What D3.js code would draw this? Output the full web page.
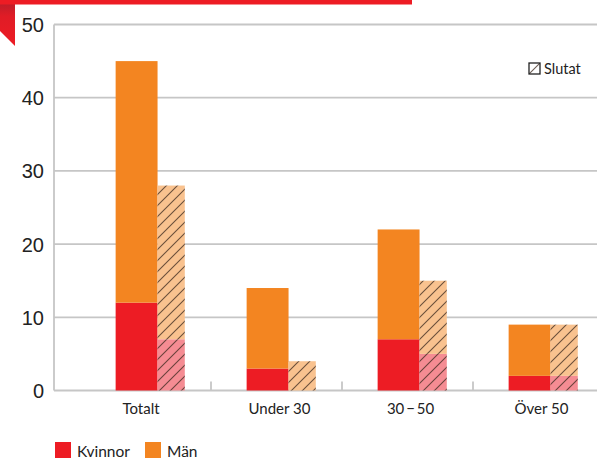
<!DOCTYPE html>
<html>
<head>
<meta charset="utf-8">
<script src="https://cdn.jsdelivr.net/npm/d3@7"></script>
<style>
  html, body { margin: 0; padding: 0; background: #fff; }
  svg { display: block; }
</style>
</head>
<body>
<svg id="chart" width="597" height="459"></svg>
<script>
// Age groups along the x axis
const categories = ["Totalt", "Under 30", "30\u2009\u2212\u200950", "Över 50"];
// Current staff by gender
const kvinnor = [12, 3, 7, 2];
const man = [33, 11, 15, 7];
// Staff who left ("Slutat"), by gender
const slutatKvinnor = [7, 0, 5, 2];
const slutatMan = [21, 4, 10, 7];
// Y axis ticks
const yTicks = [0, 10, 20, 30, 40, 50];

const RED = "#ED1C24";
const ORANGE = "#F38521";
const RED_LIGHT = "#F58C93";
const ORANGE_LIGHT = "#F9C28F";
const GRID = "#c6c6c6";
const TEXT = "#222";

const svg = d3.select("#chart");
const defs = svg.append("defs");

// diagonal hatch for the "Slutat" bars
function hatch(id, fill) {
  const p = defs.append("pattern")
    .attr("id", id)
    .attr("patternUnits", "userSpaceOnUse")
    .attr("width", 11).attr("height", 11);
  if (fill) p.append("rect").attr("width", 11).attr("height", 11).attr("fill", fill);
  p.append("path")
    .attr("d", "M-1,12 L12,-1 M-3,3 L3,-3 M8,14 L14,8")
    .attr("stroke", "rgba(60,40,30,0.75)")
    .attr("stroke-width", 1.1);
}
hatch("hatch-red", RED_LIGHT);
hatch("hatch-orange", ORANGE_LIGHT);
hatch("hatch-legend", null);

const flagGrad = defs.append("linearGradient")
  .attr("id", "flag").attr("x1", 0).attr("y1", 0).attr("x2", 0).attr("y2", 1);
flagGrad.append("stop").attr("offset", "0%").attr("stop-color", "#b51e2a");
flagGrad.append("stop").attr("offset", "35%").attr("stop-color", "#e01c26");
flagGrad.append("stop").attr("offset", "100%").attr("stop-color", RED);

// header ribbon
svg.append("rect").attr("x", 0).attr("y", 0).attr("width", 412).attr("height", 4.5).attr("fill", RED);
svg.append("path").attr("d", "M0,0 L15,0 L15,46 L0,31 Z").attr("fill", "url(#flag)");
svg.append("rect").attr("x", 0).attr("y", 0).attr("width", 15).attr("height", 4.5).attr("fill", RED);

const y = d3.scaleLinear().domain([0, 50]).range([390.5, 24.5]);
const x = d3.scaleBand().domain(categories).range([80, 604]).padding(0);
const bw = x.bandwidth();
const solidX = d => x(d) + bw * 0.272;
const solidW = bw * 0.32;
const hatchX = d => solidX(d) + solidW;
const hatchW = bw * 0.208;

// gridlines
svg.append("g").selectAll("line").data(yTicks).join("line")
  .attr("x1", 54).attr("x2", 597)
  .attr("y1", d => y(d)).attr("y2", d => y(d))
  .attr("stroke", GRID).attr("stroke-width", 1.8);

// left axis line
svg.append("line").attr("x1", 54).attr("x2", 54)
  .attr("y1", y(50)).attr("y2", y(0))
  .attr("stroke", GRID).attr("stroke-width", 1.8);

// tick marks between groups
svg.append("g").selectAll("line").data(categories.slice(1)).join("line")
  .attr("x1", d => x(d)).attr("x2", d => x(d))
  .attr("y1", y(0) - 9).attr("y2", y(0))
  .attr("stroke", GRID).attr("stroke-width", 1.8);

// y tick labels
svg.append("g").selectAll("text").data(yTicks).join("text")
  .attr("x", 44).attr("y", d => y(d) + 7.5)
  .attr("text-anchor", "end")
  .attr("font-family", "Liberation Sans, Arial, sans-serif")
  .attr("font-size", 20)
  .attr("fill", TEXT)
  .text(d => d);

const rows = categories.map((c, i) => ({
  c, k: kvinnor[i], m: man[i], sk: slutatKvinnor[i], sm: slutatMan[i]
}));

const bars = svg.append("g");
// current staff: Kvinnor at bottom, Män stacked on top
bars.selectAll(".k").data(rows).join("rect").attr("class", "k")
  .attr("x", d => solidX(d.c)).attr("width", solidW)
  .attr("y", d => y(d.k)).attr("height", d => y(0) - y(d.k))
  .attr("fill", RED);
bars.selectAll(".m").data(rows).join("rect").attr("class", "m")
  .attr("x", d => solidX(d.c)).attr("width", solidW)
  .attr("y", d => y(d.k + d.m)).attr("height", d => y(d.k) - y(d.k + d.m))
  .attr("fill", ORANGE);
// staff who left, hatched
bars.selectAll(".sk").data(rows).join("rect").attr("class", "sk")
  .attr("x", d => hatchX(d.c)).attr("width", hatchW)
  .attr("y", d => y(d.sk)).attr("height", d => y(0) - y(d.sk))
  .attr("fill", "url(#hatch-red)");
bars.selectAll(".sm").data(rows).join("rect").attr("class", "sm")
  .attr("x", d => hatchX(d.c)).attr("width", hatchW)
  .attr("y", d => y(d.sk + d.sm)).attr("height", d => y(d.sk) - y(d.sk + d.sm))
  .attr("fill", "url(#hatch-orange)");

// category labels (the first one sits a little left of its group)
svg.append("g").selectAll("text").data(categories).join("text")
  .attr("x", (d, i) => x(d) + bw * 0.5 + (i === 0 ? -4.5 : 3))
  .attr("y", 414)
  .attr("text-anchor", "middle")
  .attr("font-family", "Lato, sans-serif")
  .attr("font-size", 15)
  .attr("fill", TEXT)
  .text(d => d);

// "Slutat" key
const sl = svg.append("g").attr("transform", "translate(529,63)");
sl.append("rect").attr("width", 11).attr("height", 11)
  .attr("fill", "url(#hatch-legend)")
  .attr("stroke", "#222").attr("stroke-width", 1.3);
sl.append("text").attr("x", 15).attr("y", 10.5)
  .attr("font-family", "Lato, sans-serif").attr("font-size", 14.5)
  .attr("fill", TEXT).text("Slutat");

// gender legend
const legend = [{ label: "Kvinnor", color: RED, x: 55 }, { label: "Män", color: ORANGE, x: 145 }];
const lg = svg.append("g").selectAll("g").data(legend).join("g")
  .attr("transform", d => `translate(${d.x},442)`);
lg.append("rect").attr("width", 16).attr("height", 16).attr("fill", d => d.color);
lg.append("text").attr("x", 22).attr("y", 15)
  .attr("font-family", "Lato, sans-serif").attr("font-size", 15.5)
  .attr("fill", TEXT).text(d => d.label);
</script>
</body>
</html>
